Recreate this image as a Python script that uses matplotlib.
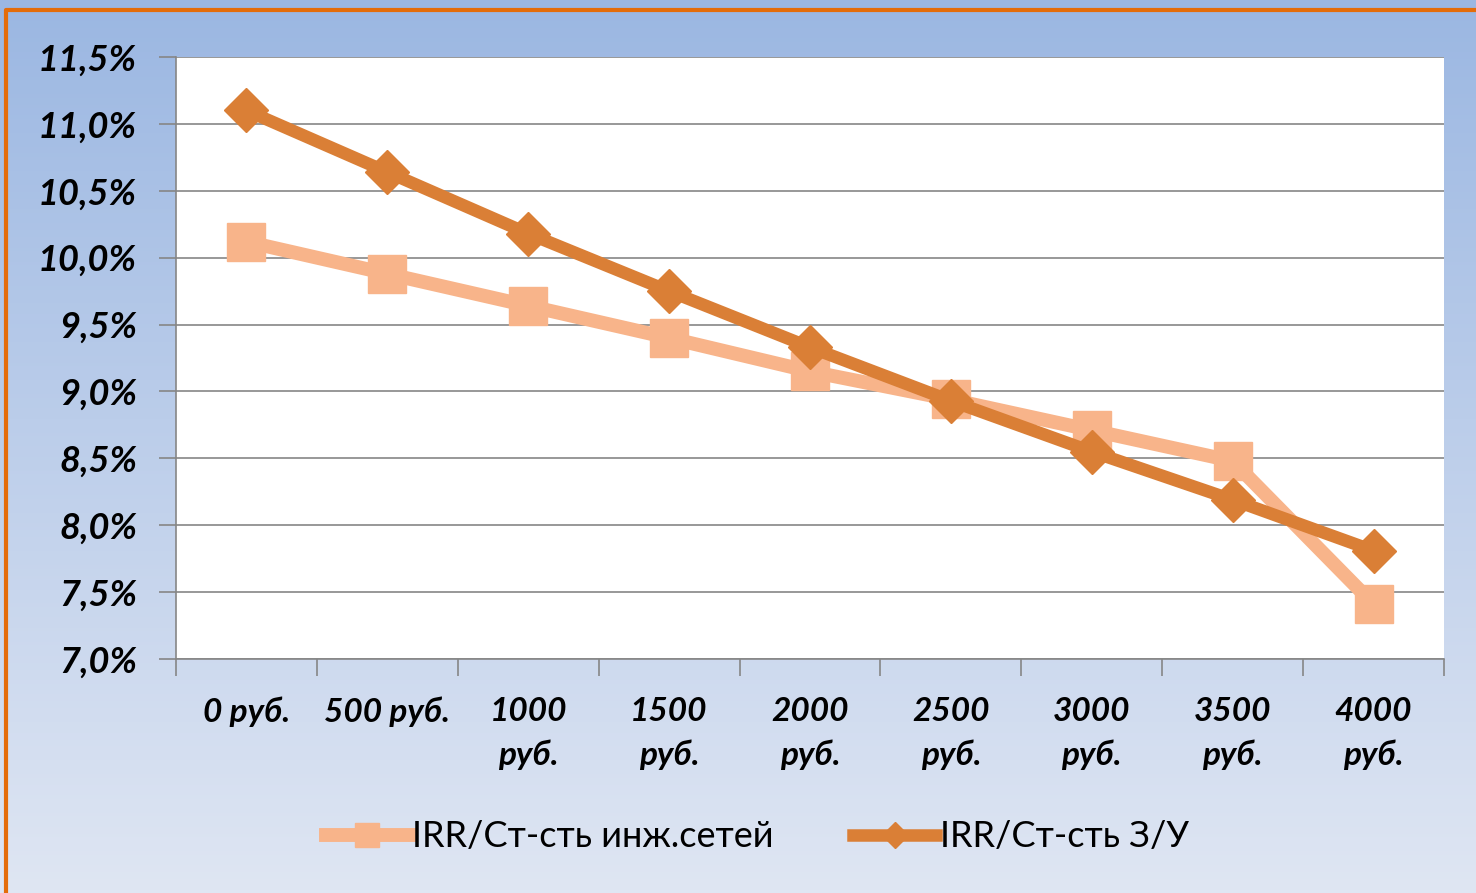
import numpy as np
import matplotlib
matplotlib.use("Agg")
import matplotlib.pyplot as plt
from matplotlib.ticker import FuncFormatter

plt.rcParams['font.family'] = ['Lato', 'DejaVu Sans']

# data
categories = ["0 руб.", "500 руб.", "1000\nруб.", "1500\nруб.", "2000\nруб.",
              "2500\nруб.", "3000\nруб.", "3500\nруб.", "4000\nруб."]
irr_networks = [10.12, 9.88, 9.64, 9.40, 9.15, 8.94, 8.71, 8.48, 7.41]
irr_land = [11.10, 10.64, 10.18, 9.75, 9.33, 8.93, 8.55, 8.19, 7.81]
y_ticks = [7.0, 7.5, 8.0, 8.5, 9.0, 9.5, 10.0, 10.5, 11.0, 11.5]

light = "#F8B48A"
dark = "#DA7F36"

fig = plt.figure(figsize=(14.76, 8.93), dpi=100)

# gradient background
bg = fig.add_axes([0, 0, 1, 1], zorder=0)
grad = np.linspace(0, 1, 256).reshape(-1, 1)
cmap = matplotlib.colors.LinearSegmentedColormap.from_list("bg", ["#9BB7E2", "#DFE6F3"])
bg.imshow(grad, aspect="auto", cmap=cmap, extent=[0, 1, 0, 1], origin="upper")
bg.set_xlim(0, 1)
bg.set_ylim(0, 1)
bg.axis("off")
# orange frame on top and left
bg.plot([0.004, 0.004, 1], [0, 0.989, 0.989], color="#E46C0A", lw=3, solid_capstyle="butt")

ax = fig.add_axes([0.1192, 0.262, 0.8591, 0.6742], zorder=1)
ax.set_facecolor("white")
x = np.arange(len(categories))

ax.plot(x, irr_networks, color=light, lw=10, marker="s", ms=28,
        label="IRR/Ст-сть инж.сетей", zorder=3)
ax.plot(x, irr_land, color=dark, lw=9, marker="D", ms=22,
        label="IRR/Ст-сть З/У", zorder=4)

ax.set_xlim(-0.5, len(categories) - 0.5)
ax.set_ylim(7.0, 11.5)
ax.set_yticks(y_ticks)
ax.yaxis.set_major_formatter(FuncFormatter(lambda v, p: f"{v:.1f}%".replace(".", ",")))
ax.grid(axis="y", color="#868686", lw=1.2)
ax.set_axisbelow(True)

ax.set_xticks(np.arange(len(categories) + 1) - 0.5)
ax.set_xticklabels([])
ax.set_xticks(x, minor=True)
ax.set_xticklabels(categories, minor=True, fontsize=24, fontweight="bold",
                   fontstyle="italic", linespacing=1.55)
ax.tick_params(axis="x", which="minor", length=0, pad=27)
ax.tick_params(axis="x", which="major", length=12, color="#868686", width=1.2)
ax.tick_params(axis="y", length=12, color="#868686", width=1.2, pad=16)
for lbl in ax.get_yticklabels():
    lbl.set_fontsize(26)
    lbl.set_fontweight("bold")
    lbl.set_fontstyle("italic")

for side in ["top", "right"]:
    ax.spines[side].set_visible(False)
for side in ["left", "bottom"]:
    ax.spines[side].set_color("#868686")
    ax.spines[side].set_linewidth(1.2)

leg = fig.legend(loc="center", bbox_to_anchor=(0.513, 0.063), ncol=2, frameon=False,
                 fontsize=26, handlelength=2.3, columnspacing=2.2, handletextpad=0.1,
                 markerscale=0.6)

fig.savefig("out.png", dpi=100)
